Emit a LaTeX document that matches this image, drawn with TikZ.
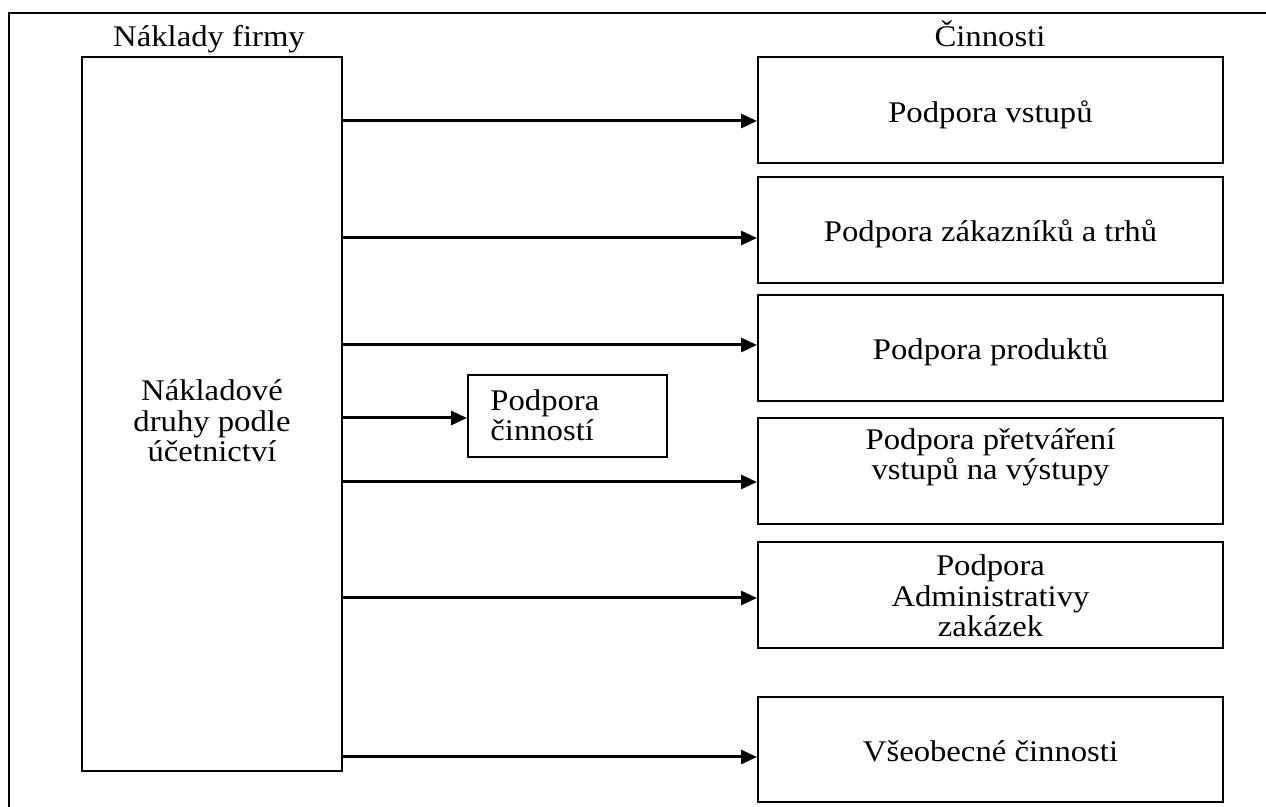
\documentclass[tikz,border=0pt]{standalone}
\usepackage{fontspec}
\setmainfont[FakeStretch=1.09]{Liberation Serif}
\usetikzlibrary{arrows.meta}
\begin{document}
\begin{tikzpicture}[x=0.5pt,y=-0.5pt,
  box/.style={draw, line width=1pt, inner sep=0pt, fill=white},
  txt/.style={font=\fontsize{15pt}{15.3pt}\selectfont, inner sep=0pt, align=center, anchor=base},
  arr/.style={line width=1.5pt, -{Triangle[length=8pt,width=7pt]}, shorten <=-1pt}
]
\useasboundingbox (0,0) rectangle (1266,807);
% frame
\coordinate (f1) at (9,808);
\coordinate (f2) at (9,13);
\coordinate (f3) at (1267,13);
\draw[line width=1pt] (f1) -- (f2) -- (f3);
% headings
\node[txt] (h1) at (209,47) {Náklady firmy};
\node[txt] (h2) at (990,47) {Činnosti};
% left box
\node[box, minimum width=130pt, minimum height=357pt] (L) at (212,414) {};
\node[txt] (Lt) at (212,462) {Nákladové\\druhy podle\\účetnictví};
% right boxes
\node[box, minimum width=232.5pt, minimum height=53pt] (r1) at (990.5,110) {};
\node[box, minimum width=232.5pt, minimum height=53pt] (r2) at (990.5,230) {};
\node[box, minimum width=232.5pt, minimum height=53pt] (r3) at (990.5,348) {};
\node[box, minimum width=232.5pt, minimum height=53pt] (r4) at (990.5,471) {};
\node[box, minimum width=232.5pt, minimum height=53pt] (r5) at (990.5,595) {};
\node[box, minimum width=232.5pt, minimum height=52.5pt] (r6) at (990.5,749.5) {};
\node[txt] (t1) at (990.5,123) {Podpora vstupů};
\node[txt] (t2) at (990.5,242) {Podpora zákazníků a trhů};
\node[txt] (t3) at (990.5,360) {Podpora produktů};
\node[txt] (t4) at (990.5,480) {Podpora přetváření\\vstupů na výstupy};
\node[txt] (t5) at (990.5,637) {Podpora\\Administrativy\\zakázek};
\node[txt] (t6) at (990.5,762) {Všeobecné činnosti};
% middle box
\node[box, minimum width=99.5pt, minimum height=41pt] (m) at (567.5,416) {};
\node[txt, align=left, anchor=base west] (mt) at (490,441) {Podpora\\činností};
% arrows
\coordinate (a1) at (0,121);
\coordinate (a2) at (0,238);
\coordinate (a3) at (0,345);
\coordinate (a4) at (0,418);
\coordinate (a5) at (0,482);
\coordinate (a6) at (0,598);
\coordinate (a7) at (0,757);
\draw[arr] (L.east |- a1) -- (r1.west |- a1);
\draw[arr] (L.east |- a2) -- (r2.west |- a2);
\draw[arr] (L.east |- a3) -- (r3.west |- a3);
\draw[arr] (L.east |- a4) -- (m.west |- a4);
\draw[arr] (L.east |- a5) -- (r4.west |- a5);
\draw[arr] (L.east |- a6) -- (r5.west |- a6);
\draw[arr] (L.east |- a7) -- (r6.west |- a7);
\end{tikzpicture}
\end{document}
